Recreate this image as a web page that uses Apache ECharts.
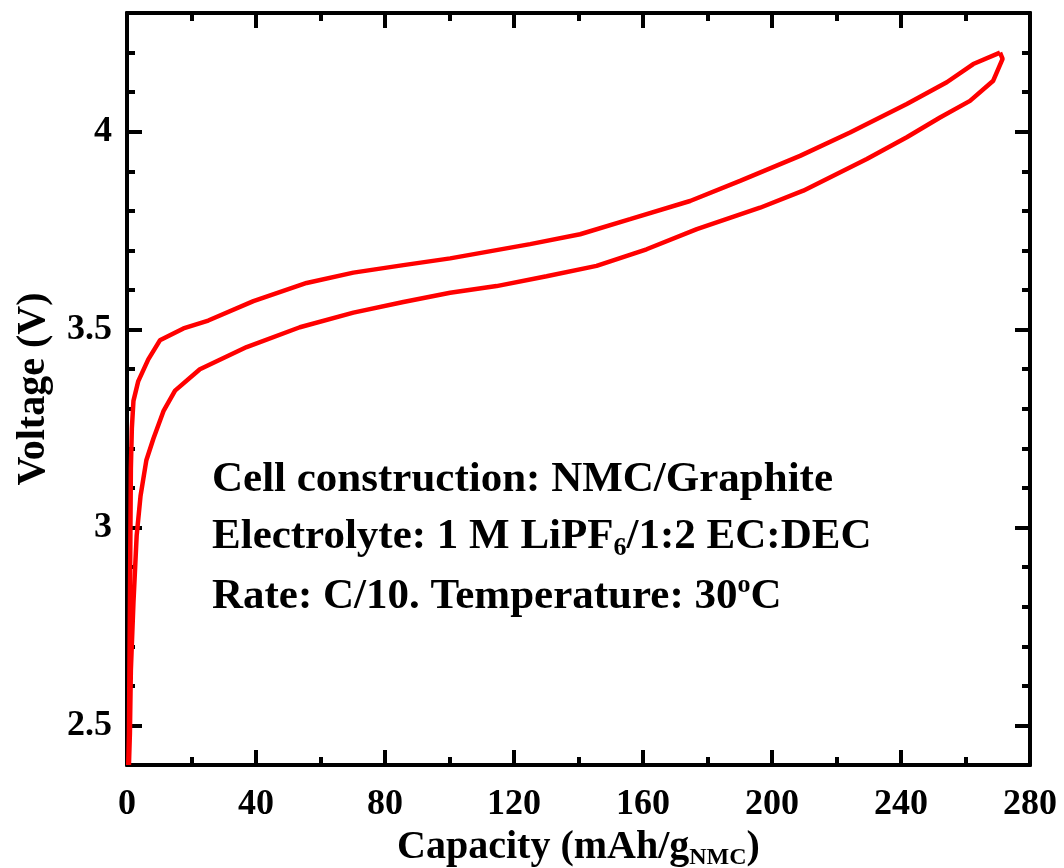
<!DOCTYPE html>
<html>
<head>
<meta charset="utf-8">
<script src="https://cdn.jsdelivr.net/npm/echarts@6/dist/echarts.min.js"></script>
<style>
html,body{margin:0;padding:0;background:#fff;}
#chart{width:1064px;height:868px;}
</style>
</head>
<body>
<div id="chart"></div>
<script>
// Capacity (mAh/g) vs Voltage (V) — charge (upper) curve
const chargeCurve = [
  [0.4, 2.40], [0.6, 2.48], [0.9, 2.81], [1.2, 3.15], [1.5, 3.25], [2.0, 3.32],
  [3.5, 3.37], [6.6, 3.425], [10.2, 3.473], [17.5, 3.503], [25.2, 3.523],
  [39.2, 3.572], [55.7, 3.618], [70.2, 3.644], [85.7, 3.663], [100.2, 3.68],
  [125, 3.716], [140.5, 3.741], [156, 3.779], [174.6, 3.825], [190.1, 3.876],
  [208.7, 3.939], [224.2, 3.998], [241.8, 4.07], [254.2, 4.125], [262.4, 4.171],
  [270.7, 4.20]
];
// discharge (lower) curve
const dischargeCurve = [
  [270.7, 4.20], [271.5, 4.184], [268.6, 4.129], [261.4, 4.078], [252.1, 4.036],
  [241.8, 3.986], [229.4, 3.931], [209.7, 3.851], [196.3, 3.808], [176.7, 3.754],
  [161.1, 3.703], [145.6, 3.661], [130.1, 3.635], [114.6, 3.61], [100.2, 3.593],
  [85.7, 3.570], [70.2, 3.543], [53.6, 3.506], [37.1, 3.456], [22.6, 3.40],
  [14.9, 3.346], [11.3, 3.294], [8.2, 3.225], [6.0, 3.17], [4.2, 3.08], [3.0, 2.98],
  [2.0, 2.81], [1.2, 2.64], [0.9, 2.48], [0.6, 2.40]
];
const xTicks = [0, 40, 80, 120, 160, 200, 240, 280];
const yMajorTicks = [2.5, 3, 3.5, 4];
const yMinorTicks = [2.4, 2.6, 2.7, 2.8, 2.9, 3.1, 3.2, 3.3, 3.4, 3.6, 3.7, 3.8, 3.9, 4.1, 4.2, 4.3];
const annotationLines = [
  '{n|Cell construction: NMC/Graphite}',
  '{n|Electrolyte: 1 M LiPF}{sub|6}{n|/1:2 EC:DEC}',
  '{n|Rate: C/10. Temperature: 30}{sup|o}{n|C}'
];

const FONT = '"Liberation Serif", "Times New Roman", serif';
const BLACK = '#000';
const chart = echarts.init(document.getElementById('chart'), null, {renderer: 'canvas'});

const lineSt = {color: BLACK, width: 4};
function yAxis(pos, vals, len, withLabel) {
  return {
    type: 'value', position: pos, min: 2.4, max: 4.3,
    axisLine: {show: true, lineStyle: lineSt},
    axisTick: {show: true, inside: true, length: len, customValues: vals, lineStyle: {color: BLACK, width: 4}},
    axisLabel: withLabel ? {show: true, customValues: vals, fontSize: 36, fontWeight: 'bold', fontFamily: FONT, color: BLACK, margin: 15} : {show: false},
    splitLine: {show: false}
  };
}
const yAxes = [
  yAxis('left', yMajorTicks, 15, true),
  yAxis('left', yMinorTicks, 8, false),
  yAxis('right', yMajorTicks, 15, false),
  yAxis('right', yMinorTicks, 8, false)
];
yAxes[0].name = 'Voltage (V)';
yAxes[0].nameLocation = 'middle';
yAxes[0].nameRotate = 90;
yAxes[0].nameGap = 73;
yAxes[0].nameTextStyle = {fontSize: 40, fontWeight: 'bold', fontFamily: FONT, color: BLACK};

function xAxis(pos, withLabel) {
  const a = {
    type: 'value', position: pos, min: 0, max: 280, interval: 40,
    axisLine: {show: true, lineStyle: lineSt},
    axisTick: {show: true, inside: true, length: 15, lineStyle: {color: BLACK, width: 4}},
    minorTick: {show: true, splitNumber: 2, length: 8, lineStyle: {color: BLACK, width: 4}},
    axisLabel: withLabel ? {show: true, fontSize: 36, fontWeight: 'bold', fontFamily: FONT, color: BLACK, margin: 22,
      customValues: xTicks} : {show: false},
    splitLine: {show: false}, minorSplitLine: {show: false}
  };
  if (withLabel) {
    a.name = '{n|Capacity (mAh/g}{sub|NMC}{n|)}';
    a.nameLocation = 'middle';
    a.nameGap = 60;
    a.nameTextStyle = {
      rich: {
        n: {fontSize: 40, fontWeight: 'bold', fontFamily: FONT, color: BLACK, lineHeight: 44},
        sub: {fontSize: 24, fontWeight: 'bold', fontFamily: FONT, color: BLACK, lineHeight: 30, verticalAlign: 'bottom'}
      }
    };
  }
  return a;
}

const richAnn = {
  n: {fontSize: 43, fontWeight: 'bold', fontFamily: FONT, fill: BLACK, lineHeight: 50},
  sub: {fontSize: 26, fontWeight: 'bold', fontFamily: FONT, fill: BLACK, lineHeight: 30, verticalAlign: 'bottom'},
  sup: {fontSize: 26, fontWeight: 'bold', fontFamily: FONT, fill: BLACK, lineHeight: 30, verticalAlign: 'top'}
};

chart.setOption({
  animation: false,
  backgroundColor: '#fff',
  grid: {left: 127, right: 34, top: 13, bottom: 103, containLabel: false, outerBoundsMode: 'none'},
  xAxis: [xAxis('bottom', true), xAxis('top', false)],
  yAxis: yAxes,
  graphic: annotationLines.map((t, i) => ({
    type: 'text', left: 212, top: 458 + i * 57, z: 10,
    style: {text: t, rich: richAnn, fill: BLACK}
  })),
  series: [
    {type: 'line', xAxisIndex: 0, yAxisIndex: 0, data: chargeCurve, showSymbol: false,
     lineStyle: {color: '#ff0000', width: 4.5}, itemStyle: {color: '#ff0000'}, z: 5},
    {type: 'line', xAxisIndex: 0, yAxisIndex: 0, data: dischargeCurve, showSymbol: false,
     lineStyle: {color: '#ff0000', width: 4.5}, itemStyle: {color: '#ff0000'}, z: 5}
  ]
});
</script>
</body>
</html>
